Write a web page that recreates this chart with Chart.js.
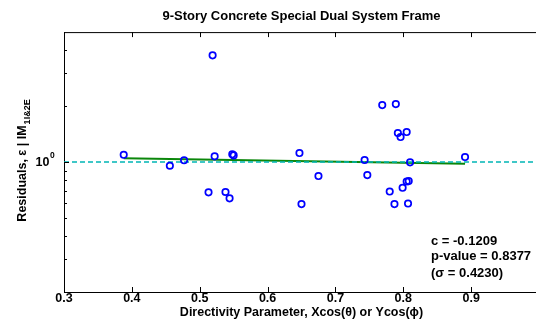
<!DOCTYPE html>
<html>
<head>
<meta charset="utf-8">
<script src="https://cdn.jsdelivr.net/npm/chart.js@4"></script>
<style>
html, body { margin: 0; padding: 0; background: #fff; overflow: hidden; }
#wrap { width: 560px; height: 324px; }
</style>
</head>
<body>
<div id="wrap"><canvas id="myChart" width="560" height="324"></canvas></div>
<script>
// data
const dirParam = [0.388, 0.456, 0.477, 0.519, 0.513, 0.522, 0.538, 0.544, 0.548, 0.550,
                  0.647, 0.650, 0.675, 0.743, 0.747, 0.769, 0.780, 0.787, 0.789, 0.792,
                  0.796, 0.799, 0.805, 0.808, 0.805, 0.807, 0.810, 0.891];
const residuals = [1.094, 0.955, 1.022, 3.75, 0.687, 1.073, 0.690, 0.638, 1.100, 1.086,
                   1.118, 0.594, 0.841, 1.025, 0.851, 2.025, 0.694, 0.594, 2.05, 1.432,
                   1.363, 0.727, 0.786, 0.790, 1.450, 0.598, 0.996, 1.064];
const fitX = [0.388, 0.891];
const fitY = [1.047, 0.979];
const refX = [0.3, 1.0];
const refY = [1, 1];
const xTicks = [0.3, 0.4, 0.5, 0.6, 0.7, 0.8, 0.9, 1.0];
const xTickLabels = ['0.3', '0.4', '0.5', '0.6', '0.7', '0.8', '0.9', ''];
const yTicks = [0.3, 0.4, 0.5, 0.6, 0.7, 0.8, 0.9, 1, 2, 3, 4];
const statLines = ['c = -0.1209', 'p-value = 0.8377', '(\u03c3 = 0.4230)'];

const FONT = "'Liberation Sans', Arial, Helvetica, sans-serif";

const toPts = (xs, ys) => xs.map((v, i) => ({ x: v, y: ys[i] }));

// matlab style: inward ticks, top border, log label, y title with subscript, stats
const matlabAxes = {
    id: 'matlabAxes',
    afterDraw(chart) {
        const { ctx, chartArea: a, scales: { x, y } } = chart;
        ctx.save();
        ctx.strokeStyle = '#000';
        ctx.lineWidth = 1;
        ctx.beginPath();
        ctx.moveTo(a.left, a.top + 0.5);
        ctx.lineTo(a.right, a.top + 0.5);
        x.ticks.forEach(t => {
            const px = Math.round(x.getPixelForValue(t.value)) + 0.5;
            ctx.moveTo(px, a.bottom);
            ctx.lineTo(px, a.bottom - 5);
            ctx.moveTo(px, a.top);
            ctx.lineTo(px, a.top + 5);
        });
        y.ticks.forEach(t => {
            const py = Math.round(y.getPixelForValue(t.value)) + 0.5;
            ctx.moveTo(a.left, py);
            ctx.lineTo(a.left + (t.value === 1 ? 5 : 3), py);
        });
        ctx.stroke();

        // 10^0 label
        ctx.fillStyle = '#000';
        const p1 = y.getPixelForValue(1);
        ctx.font = 'bold 12.5px ' + FONT;
        ctx.textAlign = 'right';
        ctx.textBaseline = 'middle';
        ctx.fillText('10', 49.5, p1 + 0.5);
        ctx.font = 'bold 8.5px ' + FONT;
        ctx.textAlign = 'left';
        ctx.fillText('0', 50, p1 - 6);

        // y title
        const main = 'Residuals, \u03b5 | IM';
        const sub = '1I&2E';
        ctx.font = 'bold 12.5px ' + FONT;
        const wMain = ctx.measureText(main).width;
        ctx.font = 'bold 9px ' + FONT;
        const wSub = ctx.measureText(sub).width;
        const total = wMain + 1 + wSub;
        ctx.translate(25.5, 160.5);
        ctx.rotate(-Math.PI / 2);
        ctx.textBaseline = 'alphabetic';
        ctx.textAlign = 'left';
        ctx.font = 'bold 12.5px ' + FONT;
        ctx.fillText(main, -total / 2, 0);
        ctx.font = 'bold 9px ' + FONT;
        ctx.fillText(sub, -total / 2 + wMain + 1, 4);
        ctx.setTransform(1, 0, 0, 1, 0, 0);

        // stats
        ctx.font = 'bold 13px ' + FONT;
        ctx.textAlign = 'left';
        ctx.textBaseline = 'middle';
        const rows = [241, 256, 273];
        statLines.forEach((s, i) => ctx.fillText(s, 431, rows[i]));
        ctx.restore();
    }
};

const ctx = document.getElementById('myChart').getContext('2d');
const myChart = new Chart(ctx, {
    type: 'scatter',
    data: {
        datasets: [{
            data: toPts(dirParam, residuals),
            borderColor: '#0000ff',
            backgroundColor: 'rgba(0,0,0,0)',
            pointRadius: 3.2,
            pointBorderWidth: 1.7,
            showLine: false
        }, {
            data: toPts(refX, refY),
            borderColor: '#00b5b5',
            borderWidth: 1.6,
            borderDash: [5, 3],
            pointRadius: 0,
            showLine: true
        }, {
            data: toPts(fitX, fitY),
            borderColor: '#0b870b',
            borderWidth: 2,
            pointRadius: 0,
            showLine: true
        }]
    },
    options: {
        responsive: false,
        animation: false,
        devicePixelRatio: 1,
        layout: { padding: { left: 0, right: 21, top: 0, bottom: 0 } },
        plugins: {
            legend: { display: false },
            tooltip: { enabled: false },
            title: {
                display: true,
                fullSize: false,
                text: '9-Story Concrete Special Dual System Frame',
                color: '#000',
                font: { family: FONT, size: 13, weight: 'bold', lineHeight: 1.2 },
                padding: { top: 8.5, bottom: 8 }
            }
        },
        scales: {
            x: {
                type: 'linear',
                min: 0.3,
                max: 1.0,
                afterBuildTicks: s => { s.ticks = xTicks.map(v => ({ value: v })); },
                afterFit: s => { s.height = 32; },
                grid: { display: false, drawTicks: false },
                border: { display: true, color: '#000', width: 1 },
                ticks: {
                    color: '#000',
                    padding: 0.5,
                    maxRotation: 0,
                    autoSkip: false,
                    font: { family: FONT, size: 12.5, weight: 'bold', lineHeight: 1 },
                    callback: (v, i) => xTickLabels[i]
                },
                title: {
                    display: true,
                    text: 'Directivity Parameter, Xcos(\u03b8) or Ycos(\u03d5)',
                    color: '#000',
                    font: { family: FONT, size: 12.5, weight: 'bold', lineHeight: 1.2 },
                    padding: { top: 0, bottom: 4 }
                }
            },
            y: {
                type: 'logarithmic',
                min: 0.2,
                max: 5,
                afterBuildTicks: s => { s.ticks = yTicks.map(v => ({ value: v })); },
                afterFit: s => { s.width = 64; },
                grid: { display: false, drawTicks: false },
                border: { display: true, color: '#000', width: 1 },
                ticks: { display: false }
            }
        }
    },
    plugins: [matlabAxes]
});
</script>
</body>
</html>
